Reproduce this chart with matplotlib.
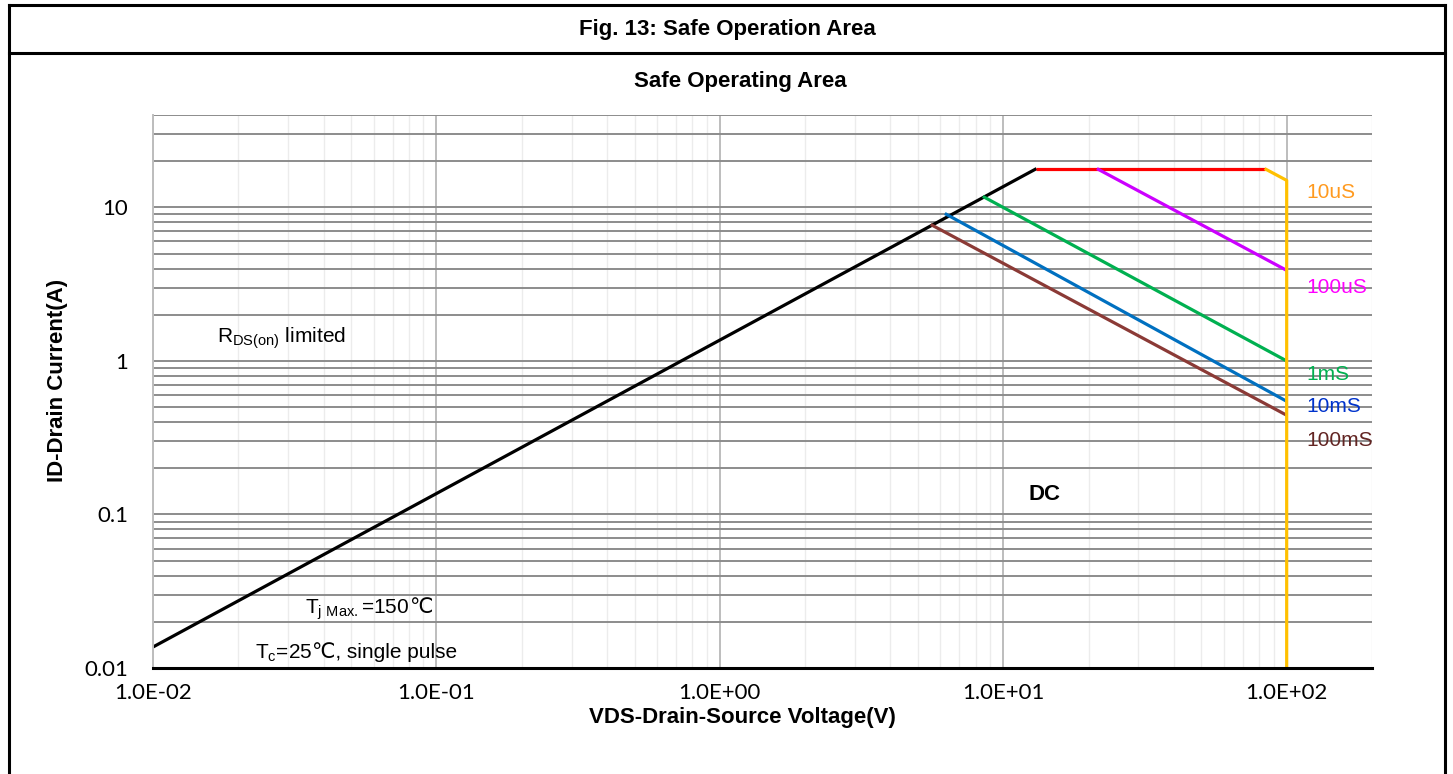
import matplotlib
matplotlib.use("Agg")
import matplotlib.pyplot as plt
from matplotlib.lines import Line2D
from matplotlib.ticker import FixedLocator, NullFormatter, LogLocator

# Boundary segments of the SOA (VDS in V, ID in A)
rds_v = [0.01, 13.1]
rds_i = [0.0137, 17.9]

lim_v = [13.1, 83.6]
lim_i = [17.9, 17.9]

us10_v = [83.6, 100, 100]
us10_i = [17.9, 15.0, 0.01]

us100_v = [21.4, 100]
us100_i = [17.9, 3.89]

ms1_v = [8.47, 100]
ms1_i = [11.8, 1.0]

ms10_v = [6.22, 100]
ms10_i = [9.13, 0.546]

ms100_v = [5.55, 100]
ms100_i = [7.74, 0.443]

x_ticks = [0.01, 0.1, 1, 10, 100]
x_ticklabels = ["1.0E-02", "1.0E-01", "1.0E+00", "1.0E+01", "1.0E+02"]
y_ticks = [0.01, 0.1, 1, 10]
y_ticklabels = ["0.01", "0.1", "1", "10"]

sans = ["Liberation Sans", "DejaVu Sans"]
plt.rcParams["mathtext.fontset"] = "custom"
plt.rcParams["mathtext.rm"] = "Liberation Sans"

W, H = 1453, 774
fig = plt.figure(figsize=(W / 100, H / 100), dpi=100)
ax = fig.add_axes([153 / W, 1 - 668 / H, (1372 - 153) / W, (668 - 115) / H])

ax.set_xscale("log")
ax.set_yscale("log")
ax.set_xlim(0.01, 200)
ax.set_ylim(0.01, 40)

# grid: dark horizontal lines, light vertical ones
ax.yaxis.set_major_locator(FixedLocator(y_ticks))
ax.yaxis.set_minor_locator(LogLocator(base=10, subs=range(2, 10), numticks=20))
ax.xaxis.set_major_locator(FixedLocator(x_ticks))
ax.xaxis.set_minor_locator(LogLocator(base=10, subs=range(2, 10), numticks=20))
ax.yaxis.set_minor_formatter(NullFormatter())
ax.xaxis.set_minor_formatter(NullFormatter())
ax.grid(True, axis="y", which="both", color="#8c8c8c", lw=1.4)
ax.grid(True, axis="x", which="major", color="#bdbdbd", lw=1.4)
ax.grid(True, axis="x", which="minor", color="#ececec", lw=1.0)
ax.set_axisbelow(True)

ax.set_xticks(x_ticks)
ax.set_xticklabels(x_ticklabels, fontfamily="Lato", fontsize=16)
ax.set_yticks(y_ticks)
ax.set_yticklabels(y_ticklabels, fontfamily="Lato", fontsize=16)
ax.tick_params(which="both", length=0)
ax.tick_params(axis="x", pad=11)
ax.tick_params(axis="y", pad=18)

for s in ["top", "right"]:
    ax.spines[s].set_visible(False)
ax.spines["left"].set_color("#bdbdbd")
ax.spines["left"].set_linewidth(1.4)
ax.spines["bottom"].set_color("black")
ax.spines["bottom"].set_linewidth(2.2)

lw = 2.3
ax.plot(rds_v, rds_i, color="black", lw=lw, solid_capstyle="butt")
ax.plot(lim_v, lim_i, color="#ff0000", lw=lw, solid_capstyle="butt")
ax.plot(us100_v, us100_i, color="#cc00ff", lw=lw, solid_capstyle="butt")
ax.plot(ms1_v, ms1_i, color="#00b050", lw=lw, solid_capstyle="butt")
ax.plot(ms10_v, ms10_i, color="#0070c0", lw=lw, solid_capstyle="butt")
ax.plot(ms100_v, ms100_i, color="#8b3a36", lw=lw, solid_capstyle="butt")
ax.plot(us10_v, us10_i, color="#ffc000", lw=lw, solid_capstyle="butt", clip_on=False)

lbl = dict(family=sans, fontsize=15, ha="left", va="center")
ax.text(117.7, 12.5, "10uS", color="#ff9a1f", **lbl)
ax.text(117.7, 3.0, "100uS", color="#ff00ff", **lbl)
ax.text(117.7, 0.818, "1mS", color="#00b050", **lbl)
ax.text(117.7, 0.507, "10mS", color="#0033cc", **lbl)
ax.text(117.7, 0.304, "100mS", color="#632523", **lbl)

ax.text(14.0, 0.1355, "DC", family=sans, fontsize=16, fontweight="bold",
        ha="center", va="center")

note = dict(family=sans, fontsize=15, ha="left", va="baseline")
ax.text(0.0168, 1.32, r"R$_{\mathregular{DS(on)}}$ limited", **note)

# the degree-Celsius sign goes in plain text so the font fallback can supply it
tj = ax.text(0.0344, 0.0228, r"T$_{\mathregular{j\ Max.}}$=150", **note)
ax.annotate("℃", xy=(1, 0.0228), xycoords=(tj, "data"), **note)
tc = ax.text(0.0229, 0.01162, r"T$_{\mathregular{c}}$=25", **note)
ax.annotate("℃, single pulse", xy=(1, 0.01162), xycoords=(tc, "data"), **note)

# titles and axis labels
fig.text(727 / W, 1 - 30 / H, "Fig. 13: Safe Operation Area", family=sans,
         fontsize=16, fontweight="bold", ha="center", va="center")
fig.text(740 / W, 1 - 82 / H, "Safe Operating Area", family=sans,
         fontsize=16, fontweight="bold", ha="center", va="center")
fig.text(742 / W, 1 - 718 / H, "VDS-Drain-Source Voltage(V)", family=sans,
         fontsize=16, fontweight="bold", ha="center", va="center")
fig.text(57 / W, 1 - 380 / H, "ID-Drain Current(A)", family=sans,
         fontsize=16, fontweight="bold", ha="center", va="center", rotation=90)

# outer frame with header row
def frame_line(x0, y0, x1, y1):
    fig.add_artist(Line2D([x0 / W, x1 / W], [1 - y0 / H, 1 - y1 / H],
                          color="black", lw=2.2, transform=fig.transFigure))

frame_line(9, 5, 1445, 5)
frame_line(9, 53, 1445, 53)
frame_line(9, 5, 9, H)
frame_line(1445, 5, 1445, H)

fig.savefig("out.png", dpi=100)
